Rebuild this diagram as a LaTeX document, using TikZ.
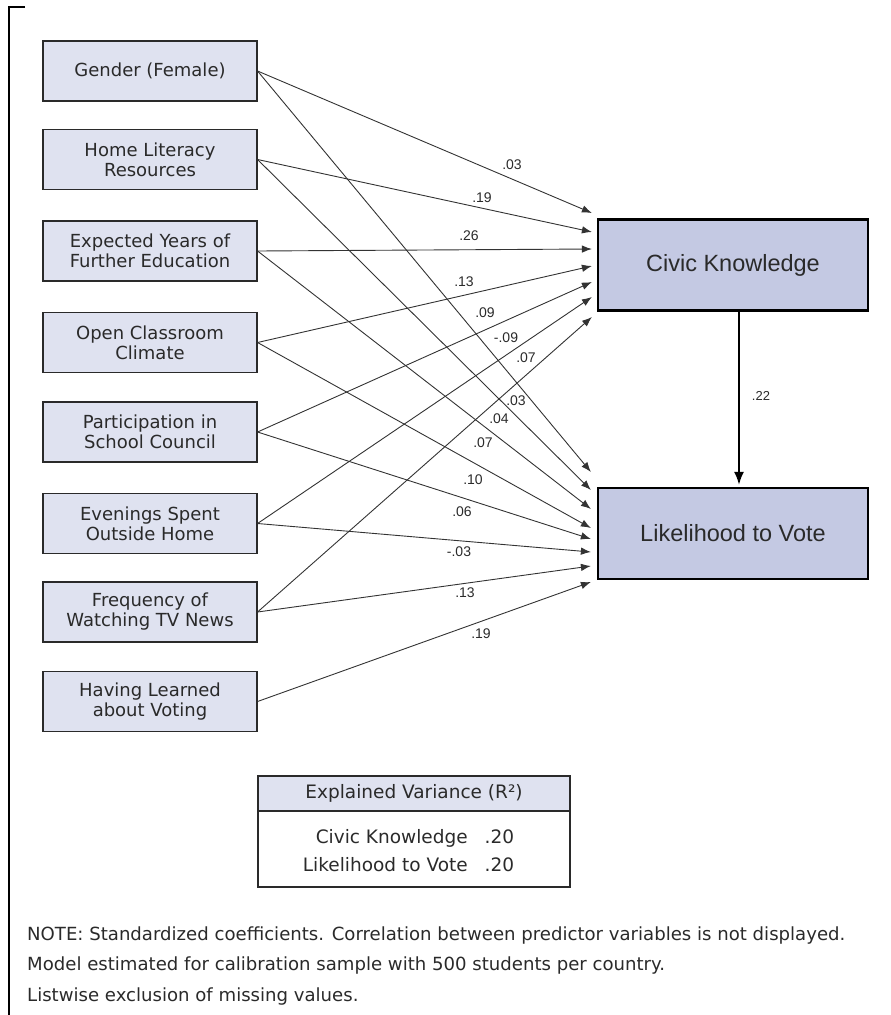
\documentclass[tikz,border=0pt]{standalone}
\usepackage{fontspec}
\setmainfont{Liberation Sans}
\newfontfamily\dvsans{DejaVu Sans}
\usetikzlibrary{arrows.meta,calc}
\definecolor{predfill}{HTML}{DFE2F0}
\definecolor{outfill}{HTML}{C4C9E3}
\definecolor{ink}{HTML}{2A2A2A}
\definecolor{edge}{HTML}{333333}
\begin{document}
\begin{tikzpicture}[x=1pt,y=-1pt,
  predbox/.style={draw=ink, fill=predfill, line width=1.1pt, minimum width=214pt, minimum height=60pt, inner sep=0pt, align=center, text=ink, font=\dvsans\fontsize{18}{20}\selectfont},
  outbox/.style={draw=black, fill=outfill, line width=2.2pt, minimum width=270pt, minimum height=91pt, inner sep=0pt, align=center, text=ink, font=\fontsize{23.5}{26}\selectfont},
  arr/.style={draw=edge, line width=0.9pt, -{Latex[length=10pt,width=7.5pt]}},
  bigarr/.style={draw=black, line width=2pt, -{Latex[length=13pt,width=10pt]}},
  lbl/.style={inner sep=0pt, text=ink, font=\fontsize{14}{15}\selectfont},
  notetext/.style={inner sep=0pt, anchor=west, text=ink, font=\dvsans\fontsize{18.1}{19}\selectfont},
  legtext/.style={text=ink, font=\dvsans\fontsize{18.5}{28}\selectfont}
]
\useasboundingbox (0,0) rectangle (891,1015);

% frame
\draw[black, line width=1.3pt] (25,7) -- (9,7) -- (9,1016);

% predictor boxes
\node[predbox] (g)  at (150,71)    {Gender (Female)};
\node[predbox] (h)  at (150,159.5) {Home Literacy\\Resources};
\node[predbox] (e)  at (150,251)   {Expected Years of\\Further Education};
\node[predbox] (o)  at (150,342.5) {Open Classroom\\Climate};
\node[predbox] (p)  at (150,432)   {Participation in\\School Council};
\node[predbox] (ev) at (150,523.5) {Evenings Spent\\Outside Home};
\node[predbox] (f)  at (150,612)   {Frequency of\\Watching TV News};
\node[predbox] (hv) at (150,701.5) {Having Learned\\about Voting};

% outcome boxes
\node[outbox] (ck) at (733,265)   {Civic Knowledge};
\node[outbox] (lv) at (733,533.5) {Likelihood to Vote};

% arrow end points at Civic Knowledge
\coordinate (c1) at ($(ck.west)+(-5,-52)$);
\coordinate (c2) at ($(ck.west)+(-5,-33)$);
\coordinate (c3) at ($(ck.west)+(-5,-16)$);
\coordinate (c4) at ($(ck.west)+(-5,1)$);
\coordinate (c5) at ($(ck.west)+(-5,17)$);
\coordinate (c6) at ($(ck.west)+(-5,32)$);
\coordinate (c7) at ($(ck.west)+(-5,52)$);
% arrow end points at Likelihood to Vote
\coordinate (v1) at ($(lv.west)+(-6,-61.5)$);
\coordinate (v2) at ($(lv.west)+(-6,-43.5)$);
\coordinate (v3) at ($(lv.west)+(-6,-24.5)$);
\coordinate (v4) at ($(lv.west)+(-6,-5.5)$);
\coordinate (v5) at ($(lv.west)+(-6,5.5)$);
\coordinate (v6) at ($(lv.west)+(-6,18.5)$);
\coordinate (v7) at ($(lv.west)+(-6,32.5)$);
\coordinate (v8) at ($(lv.west)+(-6,48.5)$);

% paths to Civic Knowledge
\draw[arr] (g.east)  -- (c1);
\draw[arr] (h.east)  -- (c2);
\draw[arr] (e.east)  -- (c3);
\draw[arr] (o.east)  -- (c4);
\draw[arr] (p.east)  -- (c5);
\draw[arr] (ev.east) -- (c6);
\draw[arr] (f.east)  -- (c7);
% paths to Likelihood to Vote
\draw[arr] (g.east)  -- (v1);
\draw[arr] (h.east)  -- (v2);
\draw[arr] (e.east)  -- (v3);
\draw[arr] (o.east)  -- (v4);
\draw[arr] (p.east)  -- (v5);
\draw[arr] (ev.east) -- (v6);
\draw[arr] (f.east)  -- (v7);
\draw[arr] (hv.east) -- (v8);

\draw[bigarr] ([xshift=6pt]ck.south) -- ([xshift=6pt,yshift=2pt]lv.north);

% coefficient labels
\node[lbl] (k1) at (512,165) {.03};
\node[lbl] (k2) at (482,198) {.19};
\node[lbl] (k3) at (469,236) {.26};
\node[lbl] (k4) at (464,282) {.13};
\node[lbl] (k5) at (485,313) {.09};
\node[lbl] (k6) at (506,338) {-.09};
\node[lbl] (k7) at (526,358) {.07};
\node[lbl] (m1) at (516,401) {.03};
\node[lbl] (m2) at (499,419) {.04};
\node[lbl] (m3) at (483,443) {.07};
\node[lbl] (m4) at (473,480) {.10};
\node[lbl] (m5) at (462,512) {.06};
\node[lbl] (m6) at (459,552) {-.03};
\node[lbl] (m7) at (465,593) {.13};
\node[lbl] (m8) at (481,634) {.19};
\node[lbl, font=\fontsize{13}{14}\selectfont] (kv) at (761,396) {.22};

% legend
\node[draw=ink, line width=1.1pt, minimum width=312pt, minimum height=111pt, inner sep=0pt] (leg) at (414,831.5) {};
\node[draw=ink, fill=predfill, line width=1.1pt, minimum width=312pt, minimum height=35pt, inner sep=0pt, anchor=north, text=ink, font=\dvsans\fontsize{18.5}{20}\selectfont] (leghead) at (leg.north) {Explained Variance (R²)};
\node[legtext, inner sep=0pt] (legbody) at (408.5,852) {\begin{tabular}{@{}r@{\hspace{17pt}}l@{}}Civic Knowledge & .20\\ Likelihood to Vote & .20\end{tabular}};

% note
\node[notetext] (n1) at (27,935) {NOTE: Standardized coefficients. Correlation between predictor variables is not displayed.};
\node[notetext] (n2) at (27,965) {Model estimated for calibration sample with 500 students per country.};
\node[notetext] (n3) at (27,996) {Listwise exclusion of missing values.};
\end{tikzpicture}
\end{document}
